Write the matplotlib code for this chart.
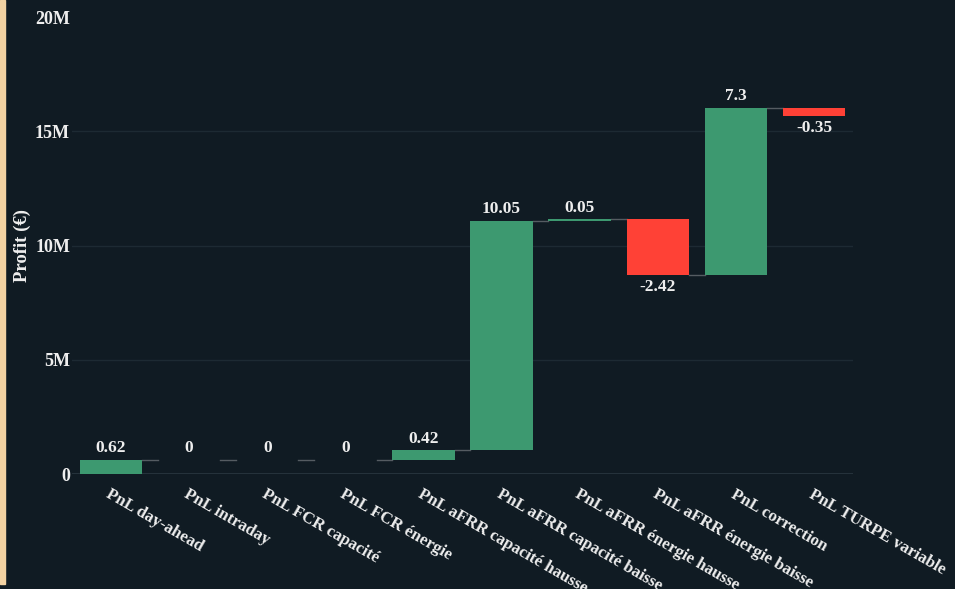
import numpy as np
import matplotlib.pyplot as plt
from matplotlib.patches import Rectangle

plt.rcParams['font.family'] = ['Liberation Serif', 'DejaVu Serif']
plt.rcParams['font.weight'] = 'bold'

# postes du compte de résultat (en M€)
postes = ["PnL day-ahead", "PnL intraday", "PnL FCR capacité", "PnL FCR énergie",
          "PnL aFRR capacité hausse", "PnL aFRR capacité baisse",
          "PnL aFRR énergie hausse", "PnL aFRR énergie baisse",
          "PnL correction", "PnL TURPE variable"]
valeurs = [0.62, 0, 0, 0, 0.42, 10.05, 0.05, -2.42, 7.3, -0.35]
yticks = [0, 5, 10, 15, 20]
ytick_labels = ["0", "5M", "10M", "15M", "20M"]

BG = '#101b23'
VERT = '#3d9970'
ROUGE = '#ff4136'
TXT = '#eeeeee'

vals = np.array(valeurs) * 1e6
fin = np.cumsum(vals)
debut = fin - vals
x = np.arange(len(postes))

fig = plt.figure(figsize=(9.55, 5.89), dpi=100, facecolor=BG)
ax = fig.add_axes([0.0754, 0.1952, 0.8178, 0.7759])
ax.set_facecolor(BG)

for yv in [5e6, 10e6, 15e6]:
    ax.axhline(yv, color='#1d2a33', lw=1, zorder=0)
ax.axhline(0, color='#2a3741', lw=1.2, zorder=0)

couleurs = [VERT if v >= 0 else ROUGE for v in vals]
ax.bar(x, vals, bottom=debut, width=0.8, color=couleurs, zorder=2)

# traits de liaison entre les barres
for i in range(len(x) - 1):
    ax.plot([x[i] + 0.4, x[i + 1] - 0.4], [fin[i], fin[i]], color='#555c62', lw=1, zorder=1)

for i, v in enumerate(valeurs):
    lab = f"{v:g}"
    if v >= 0:
        ax.annotate(lab, (x[i], max(debut[i], fin[i])), xytext=(0, 2.5), textcoords='offset points',
                    ha='center', va='bottom', color=TXT, fontsize=12.5, fontweight='bold')
    else:
        ax.annotate(lab, (x[i], min(debut[i], fin[i])), xytext=(0, -3), textcoords='offset points',
                    ha='center', va='top', color=TXT, fontsize=12.5, fontweight='bold')

ax.set_xlim(-0.5, 9.5)
ax.set_ylim(0, 20e6)
ax.set_yticks([t * 1e6 for t in yticks])
ax.set_yticklabels(ytick_labels)
ax.set_xticks(x)
ax.set_xticklabels(postes, rotation=-30, ha='left', rotation_mode='anchor')
ax.tick_params(axis='both', length=0, colors=TXT, labelsize=13)
ax.tick_params(axis='x', pad=9, labelsize=12.2)
ax.tick_params(axis='y', pad=1.5)
for s in ax.spines.values():
    s.set_visible(False)

fig.text(22 / 955, 1 - 246 / 589, "Profit (€)", rotation=90, ha='center', va='center',
         color=TXT, fontsize=13.5, fontweight='bold')

# bandeau à gauche
fig.patches.append(Rectangle((0, 1 - 584 / 589), 5 / 955, 584 / 589, transform=fig.transFigure,
                             color='#f2d2a2', zorder=0))

fig.savefig('out.png', dpi=100, facecolor=BG)
